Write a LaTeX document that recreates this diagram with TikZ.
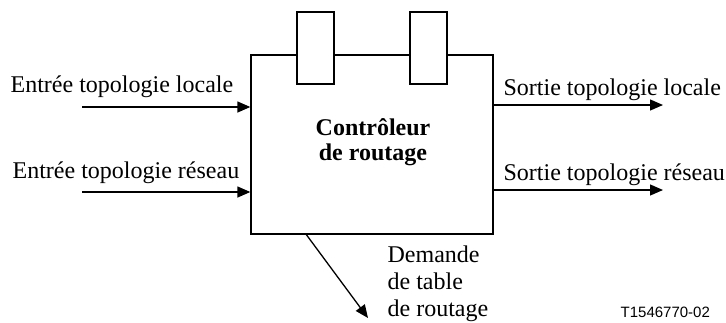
\documentclass[tikz,border=0pt]{standalone}
\usepackage{fontspec}
\setmainfont{Liberation Serif}
\newfontfamily\idfont{Liberation Sans}
\usetikzlibrary{arrows.meta}

\begin{document}
\begin{tikzpicture}[x=1pt,y=-1pt,line width=1.3pt,
        >={Triangle[length=13pt,width=11pt]},
        port/.style={shape=rectangle,draw=black,fill=white,minimum width=37pt,minimum height=72pt,inner sep=0pt},
        sig/.style={inner sep=0pt,font=\fontsize{24}{28}\selectfont}]
        \useasboundingbox (0,0) rectangle (726,322);

        \node[shape=rectangle,draw=black,minimum width=242pt,minimum height=179pt] (ctrl) at (372,144.5) {};
        \node[port] (P1) at (315.5,48) {};
        \node[port] (P2) at (428.5,48) {};
        \node[sig,align=center,font=\bfseries\fontsize{24}{25}\selectfont] (name) at (373,142) {Contrôleur\\de routage};

        \coordinate (inL) at (82,107);
        \coordinate (inR) at (82,192);
        \coordinate (outL) at (663,105);
        \coordinate (outR) at (663,190);
        \coordinate (req) at (368,318);

        \node[sig,anchor=base west] (inLtxt) at (10,92) {Entrée topologie locale};
        \node[sig,anchor=base west] (inRtxt) at (12,178) {Entrée topologie réseau};
        \node[sig,anchor=base west] (outLtxt) at (503,95) {Sortie topologie locale};
        \node[sig,anchor=base west] (outRtxt) at (503,180) {Sortie topologie réseau};
        \node[sig,anchor=north west,align=left,font=\fontsize{24}{27}\selectfont] (reqtxt) at (387,245) {Demande\\de table\\de routage};
        \node[anchor=base west,inner sep=0pt,font=\idfont\fontsize{15}{18}\selectfont] (fig) at (620,317) {T1546770-02};

        \path [->] (inL) edge (inL -| ctrl.west);
        \path [->] (inR) edge (inR -| ctrl.west);
        \path [->] (outL -| ctrl.east) edge (outL);
        \path [->] (outR -| ctrl.east) edge (outR);
        \path [->] ([xshift=56pt]ctrl.south west) edge (req);
    \end{tikzpicture}
\end{document}
